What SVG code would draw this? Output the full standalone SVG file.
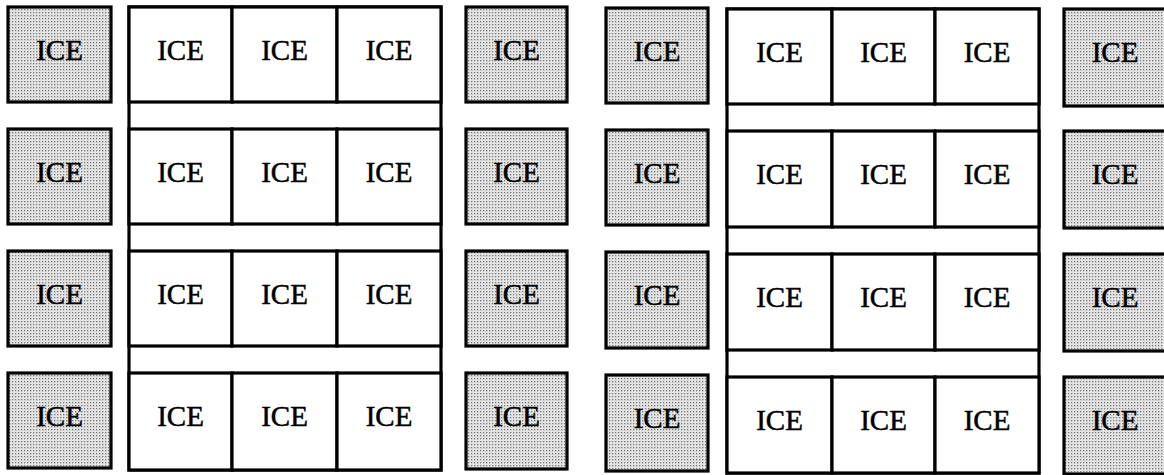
<svg xmlns="http://www.w3.org/2000/svg" width="1164" height="475" viewBox="0 0 1164 475">
<style>
.g{fill:url(#dots);stroke:#000;stroke-width:3.2}
.w{fill:#fff;stroke:#000;stroke-width:3.2}
.b{fill:#fff;stroke:#000;stroke-width:3.2}
.t{font-family:"Liberation Serif","Times New Roman",serif;font-size:29px;fill:#000;stroke:#000;stroke-width:0.5;text-anchor:middle}
</style>
<defs>
<pattern id="dots" width="3" height="3" patternUnits="userSpaceOnUse">
<rect width="3" height="3" fill="#e4e4e4"/>
<rect width="1.3" height="1.3" fill="#7a7a7a"/>
</pattern>
</defs>
<rect width="1164" height="475" fill="#fff"/>
<g id="col1">
<g id="g1r1"><rect class="g" x="8" y="7" width="103" height="95"/><text class="t" x="59.5" y="60">ICE</text></g>
<g id="g1r2"><rect class="g" x="8" y="129" width="103" height="95"/><text class="t" x="59.5" y="182">ICE</text></g>
<g id="g1r3"><rect class="g" x="8" y="251" width="103" height="95"/><text class="t" x="59.5" y="304">ICE</text></g>
<g id="g1r4"><rect class="g" x="8" y="373" width="103" height="95"/><text class="t" x="59.5" y="426">ICE</text></g>
</g>
<g id="block1">
<rect class="b" x="129" y="7" width="312" height="463"/>
<g id="b1r1c1"><rect class="w" x="129" y="7" width="103" height="95"/><text class="t" x="180.5" y="60">ICE</text></g>
<g id="b1r1c2"><rect class="w" x="232" y="7" width="105" height="95"/><text class="t" x="284.5" y="60">ICE</text></g>
<g id="b1r1c3"><rect class="w" x="337" y="7" width="104" height="95"/><text class="t" x="389" y="60">ICE</text></g>
<g id="b1r2c1"><rect class="w" x="129" y="129" width="103" height="95"/><text class="t" x="180.5" y="182">ICE</text></g>
<g id="b1r2c2"><rect class="w" x="232" y="129" width="105" height="95"/><text class="t" x="284.5" y="182">ICE</text></g>
<g id="b1r2c3"><rect class="w" x="337" y="129" width="104" height="95"/><text class="t" x="389" y="182">ICE</text></g>
<g id="b1r3c1"><rect class="w" x="129" y="251" width="103" height="95"/><text class="t" x="180.5" y="304">ICE</text></g>
<g id="b1r3c2"><rect class="w" x="232" y="251" width="105" height="95"/><text class="t" x="284.5" y="304">ICE</text></g>
<g id="b1r3c3"><rect class="w" x="337" y="251" width="104" height="95"/><text class="t" x="389" y="304">ICE</text></g>
<g id="b1r4c1"><rect class="w" x="129" y="373" width="103" height="97"/><text class="t" x="180.5" y="426">ICE</text></g>
<g id="b1r4c2"><rect class="w" x="232" y="373" width="105" height="97"/><text class="t" x="284.5" y="426">ICE</text></g>
<g id="b1r4c3"><rect class="w" x="337" y="373" width="104" height="97"/><text class="t" x="389" y="426">ICE</text></g>
</g>
<g id="col2">
<g id="g2r1"><rect class="g" x="466" y="7" width="101" height="95"/><text class="t" x="516.5" y="60">ICE</text></g>
<g id="g2r2"><rect class="g" x="466" y="129" width="101" height="95"/><text class="t" x="516.5" y="182">ICE</text></g>
<g id="g2r3"><rect class="g" x="466" y="251" width="101" height="95"/><text class="t" x="516.5" y="304">ICE</text></g>
<g id="g2r4"><rect class="g" x="466" y="373" width="101" height="96"/><text class="t" x="516.5" y="426">ICE</text></g>
</g>
<g id="col3">
<g id="g3r1"><rect class="g" x="606" y="8" width="102" height="95"/><text class="t" x="657" y="61">ICE</text></g>
<g id="g3r2"><rect class="g" x="606" y="130" width="102" height="95"/><text class="t" x="657" y="183">ICE</text></g>
<g id="g3r3"><rect class="g" x="606" y="252" width="102" height="96"/><text class="t" x="657" y="305">ICE</text></g>
<g id="g3r4"><rect class="g" x="606" y="375" width="102" height="96"/><text class="t" x="657" y="428">ICE</text></g>
</g>
<g id="block2">
<rect class="b" x="727" y="9" width="312" height="464"/>
<g id="b2r1c1"><rect class="w" x="727" y="9" width="105" height="95"/><text class="t" x="779.5" y="62">ICE</text></g>
<g id="b2r1c2"><rect class="w" x="832" y="9" width="103" height="95"/><text class="t" x="883.5" y="62">ICE</text></g>
<g id="b2r1c3"><rect class="w" x="935" y="9" width="104" height="95"/><text class="t" x="987" y="62">ICE</text></g>
<g id="b2r2c1"><rect class="w" x="727" y="131" width="105" height="96"/><text class="t" x="779.5" y="184">ICE</text></g>
<g id="b2r2c2"><rect class="w" x="832" y="131" width="103" height="96"/><text class="t" x="883.5" y="184">ICE</text></g>
<g id="b2r2c3"><rect class="w" x="935" y="131" width="104" height="96"/><text class="t" x="987" y="184">ICE</text></g>
<g id="b2r3c1"><rect class="w" x="727" y="254" width="105" height="96"/><text class="t" x="779.5" y="307">ICE</text></g>
<g id="b2r3c2"><rect class="w" x="832" y="254" width="103" height="96"/><text class="t" x="883.5" y="307">ICE</text></g>
<g id="b2r3c3"><rect class="w" x="935" y="254" width="104" height="96"/><text class="t" x="987" y="307">ICE</text></g>
<g id="b2r4c1"><rect class="w" x="727" y="377" width="105" height="96"/><text class="t" x="779.5" y="430">ICE</text></g>
<g id="b2r4c2"><rect class="w" x="832" y="377" width="103" height="96"/><text class="t" x="883.5" y="430">ICE</text></g>
<g id="b2r4c3"><rect class="w" x="935" y="377" width="104" height="96"/><text class="t" x="987" y="430">ICE</text></g>
</g>
<g id="col4">
<g id="g4r1"><rect class="g" x="1064" y="9" width="104" height="97"/><text class="t" x="1115" y="62">ICE</text></g>
<g id="g4r2"><rect class="g" x="1064" y="131" width="104" height="97"/><text class="t" x="1115" y="184">ICE</text></g>
<g id="g4r3"><rect class="g" x="1064" y="254" width="104" height="97"/><text class="t" x="1115" y="307">ICE</text></g>
<g id="g4r4"><rect class="g" x="1064" y="377" width="104" height="97"/><text class="t" x="1115" y="430">ICE</text></g>
</g>
<g id="connectors"/>
</svg>
